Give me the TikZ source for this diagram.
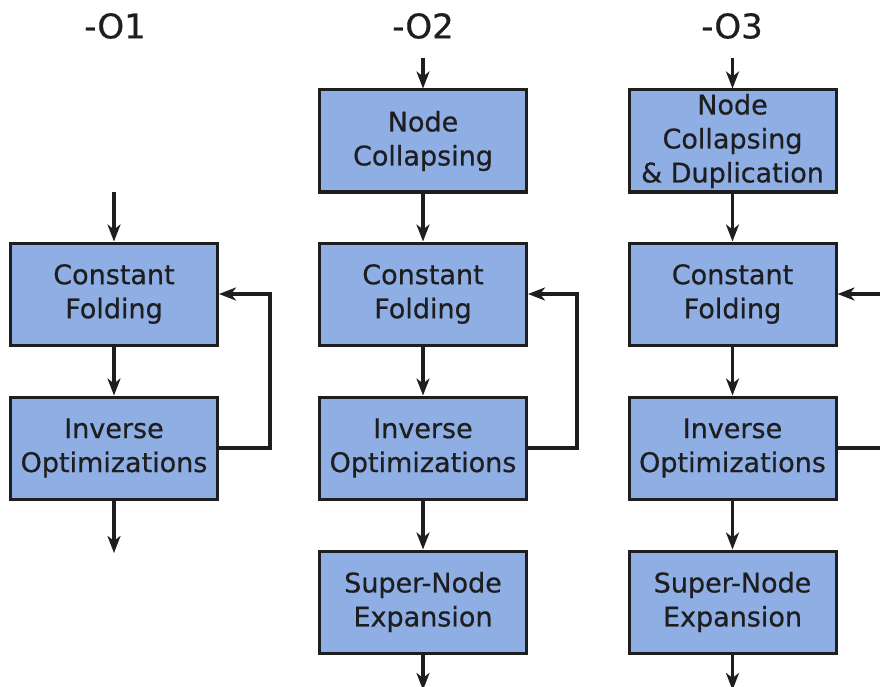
\documentclass[tikz,border=0pt]{standalone}
\usepackage{fontspec}
\setmainfont{DejaVu Sans}[FakeBold=0.6]
\usetikzlibrary{arrows.meta}
\definecolor{boxblue}{RGB}{142,174,228}
\definecolor{ink}{RGB}{30,30,32}
\begin{document}
\begin{tikzpicture}[x=1pt,y=-1pt,
  proc/.style={draw=ink, line width=3pt, fill=boxblue, minimum width=207pt, minimum height=102pt, inner sep=0pt, align=center, font=\fontsize{27}{34}\selectfont, text=ink},
  flow/.style={draw=ink, line width=3.2pt, -{Stealth[length=17pt,width=13pt,inset=5pt]}},
  ttl/.style={font=\fontsize{34}{40}\selectfont, text=ink}]
\clip (0,0) rectangle (880,687);
% titles
\node[ttl] (t1) at (115,26) {-O1};
\node[ttl] (t2) at (423,26) {-O2};
\node[ttl] (t3) at (732,26) {-O3};
% column 1
\node[proc] (cf1) at (114,294) {Constant\\Folding};
\node[proc] (io1) at (114,448) {Inverse\\Optimizations};
\coordinate (in1) at (114,192);
\coordinate (out1) at (114,553);
\coordinate (l1a) at (270,448);
\coordinate (l1b) at (270,294);
\draw[flow] (in1) -- (cf1);
\draw[flow] (cf1) -- (io1);
\draw[flow] (io1) -- (out1);
\draw[flow] (io1.east) -- (l1a) -- (l1b) -- (cf1.east);
% column 2
\node[proc] (nc2) at (423,141) {Node\\Collapsing};
\node[proc] (cf2) at (423,294) {Constant\\Folding};
\node[proc] (io2) at (423,448) {Inverse\\Optimizations};
\node[proc] (se2) at (423,602) {Super-Node\\Expansion};
\coordinate (in2) at (423,58);
\coordinate (out2) at (423,690);
\coordinate (l2a) at (577,448);
\coordinate (l2b) at (577,294);
\draw[flow] (in2) -- (nc2);
\draw[flow] (nc2) -- (cf2);
\draw[flow] (cf2) -- (io2);
\draw[flow] (io2) -- (se2);
\draw[flow] (se2) -- (out2);
\draw[flow] (io2.east) -- (l2a) -- (l2b) -- (cf2.east);
% column 3
\node[proc] (nc3) at (732.5,141) {Node\\Collapsing\\\& Duplication};
\node[proc] (cf3) at (732.5,294) {Constant\\Folding};
\node[proc] (io3) at (732.5,448) {Inverse\\Optimizations};
\node[proc] (se3) at (732.5,602) {Super-Node\\Expansion};
\coordinate (in3) at (732.5,58);
\coordinate (out3) at (732.5,690);
\coordinate (l3a) at (900,448);
\coordinate (l3b) at (900,294);
\draw[flow] (in3) -- (nc3);
\draw[flow] (nc3) -- (cf3);
\draw[flow] (cf3) -- (io3);
\draw[flow] (io3) -- (se3);
\draw[flow] (se3) -- (out3);
\draw[flow] (io3.east) -- (l3a) -- (l3b) -- (cf3.east);
\end{tikzpicture}
\end{document}
